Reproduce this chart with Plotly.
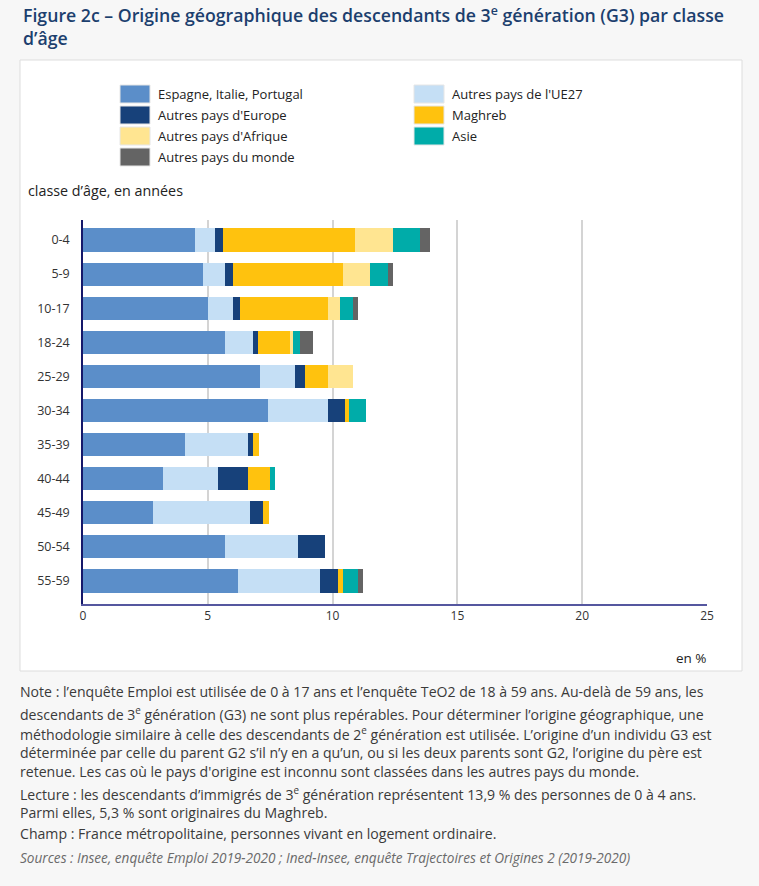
import plotly.graph_objects as go

# ---------------- data ----------------
categories = ["0-4", "5-9", "10-17", "18-24", "25-29", "30-34",
              "35-39", "40-44", "45-49", "50-54", "55-59"]

series_names = ["Espagne, Italie, Portugal", "Autres pays de l'UE27",
                "Autres pays d'Europe", "Maghreb", "Autres pays d'Afrique",
                "Asie", "Autres pays du monde"]

espagne_italie_portugal = [4.5, 4.8, 5.0, 5.7, 7.1, 7.4, 4.1, 3.2, 2.8, 5.7, 6.2]
autres_ue27 = [0.8, 0.9, 1.0, 1.1, 1.4, 2.4, 2.5, 2.2, 3.9, 2.9, 3.3]
autres_europe = [0.3, 0.3, 0.3, 0.2, 0.4, 0.7, 0.2, 1.2, 0.5, 1.1, 0.7]
maghreb = [5.3, 4.4, 3.5, 1.3, 0.9, 0.15, 0.25, 0.9, 0.25, 0.0, 0.2]
autres_afrique = [1.5, 1.1, 0.5, 0.1, 1.0, 0.0, 0.0, 0.0, 0.0, 0.0, 0.0]
asie = [1.1, 0.7, 0.5, 0.3, 0.0, 0.7, 0.0, 0.2, 0.0, 0.0, 0.6]
autres_monde = [0.4, 0.2, 0.2, 0.5, 0.0, 0.0, 0.0, 0.0, 0.0, 0.0, 0.2]

series_values = [espagne_italie_portugal, autres_ue27, autres_europe, maghreb,
                 autres_afrique, asie, autres_monde]
series_colors = ["#5B8EC9", "#C5DFF5", "#17417A", "#FFC20E",
                 "#FFE591", "#00ACA9", "#646464"]

x_ticks = [0, 5, 10, 15, 20, 25]

title_text = ("Figure 2c – Origine géographique des descendants de 3<sup>e</sup> "
              "génération (G3) par classe<br>d’âge")
y_title = "classe d’âge, en années"
x_title = "en %"

# note paragraphs (lines joined with <br> inside a paragraph block)
note_blocks = [
    ["Note : l’enquête Emploi est utilisée de 0 à 17 ans et l’enquête TeO2 de 18 à 59 ans. Au-delà de 59 ans, les"],
    ["descendants de 3<sup>e</sup> génération (G3) ne sont plus repérables. Pour déterminer l’origine géographique, une"],
    ["méthodologie similaire à celle des descendants de 2<sup>e</sup> génération est utilisée. L’origine d’un individu G3 est",
     "déterminée par celle du parent G2 s’il n’y en a qu’un, ou si les deux parents sont G2, l’origine du père est",
     "retenue. Les cas où le pays d'origine est inconnu sont classées dans les autres pays du monde."],
    ["Lecture : les descendants d’immigrés de 3<sup>e</sup> génération représentent 13,9 % des personnes de 0 à 4 ans.",
     "Parmi elles, 5,3 % sont originaires du Maghreb."],
    ["Champ : France métropolitaine, personnes vivant en logement ordinaire."],
]
source_line = "Sources : Insee, enquête Emploi 2019-2020 ; Ined-Insee, enquête Trajectoires et Origines 2 (2019-2020)"

# ---------------- layout geometry (pixels) ----------------
W, H = 759, 886
L, R, T, B = 83, 707, 220, 604

def X(px):
    return (px - L) / (R - L)

def Y(py):
    return (B - py) / (B - T)

FONT = "Open Sans, Noto Sans, sans-serif"

fig = go.Figure()
for name, vals, col in zip(series_names, series_values, series_colors):
    fig.add_trace(go.Bar(
        y=categories, x=vals, name=name, orientation="h",
        marker=dict(color=col, line=dict(width=0)),
        showlegend=False,
        hovertemplate="%{y} : %{x}<extra>" + name + "</extra>",
    ))

# y range so that category centers fall at the right pixels
band = 34.1
top_idx = -(240 - T) / band
bot_idx = 10 + (B - 581) / band

fig.update_layout(
    width=W, height=H,
    margin=dict(l=L, r=W - R, t=T, b=H - B, pad=0),
    paper_bgcolor="#F7F7F7",
    plot_bgcolor="rgba(0,0,0,0)",
    barmode="stack",
    bargap=0.32,
    font=dict(family=FONT, size=12, color="#333333"),
    xaxis=dict(range=[0, 25], tickvals=x_ticks, ticktext=[str(v) for v in x_ticks],
               showgrid=True, gridcolor="#D4D4D4", gridwidth=2,
               showline=True, linecolor="#55579F", linewidth=1.5,
               zeroline=False, ticks="", ticklen=0,
               tickfont=dict(size=12, color="#333333")),
    yaxis=dict(range=[bot_idx, top_idx], type="category",
               showgrid=False, showline=True, linecolor="#15186A", linewidth=1.5,
               ticks="", ticklabelstandoff=9,
               tickfont=dict(size=12.5, color="#333333")),
)

shapes = []
# white panel
shapes.append(dict(type="rect", xref="paper", yref="paper",
                   x0=X(20), x1=X(742), y0=Y(671), y1=Y(60),
                   fillcolor="#FFFFFF", line=dict(color="#DDDDDD", width=1),
                   layer="below"))

annotations = []
# title
annotations.append(dict(text=title_text, xref="paper", yref="paper",
                        x=X(21), y=Y(26), xanchor="left", yanchor="middle",
                        showarrow=False, align="left",
                        font=dict(family=FONT, size=17.7, color="#1C3F6E", weight=600)))

# legend (two columns, row-wise fill)
row_y = [94, 115, 136, 157]
col_x = [120, 414]
for i, (name, col) in enumerate(zip(series_names, series_colors)):
    r, c = divmod(i, 2)
    cy = row_y[r]
    sx = col_x[c]
    shapes.append(dict(type="rect", xref="paper", yref="paper",
                       x0=X(sx), x1=X(sx + 30), y0=Y(cy + 9), y1=Y(cy - 9),
                       fillcolor=col, line=dict(color="#E6E6E6", width=1)))
    annotations.append(dict(text=name, xref="paper", yref="paper",
                            x=X(sx + 36), y=Y(cy), xanchor="left", yanchor="middle",
                            showarrow=False,
                            font=dict(family=FONT, size=13, color="#222222")))

# axis titles
annotations.append(dict(text=y_title, xref="paper", yref="paper",
                        x=X(26), y=Y(190), xanchor="left", yanchor="middle",
                        showarrow=False, font=dict(family=FONT, size=14.3, color="#222222")))
annotations.append(dict(text=x_title, xref="paper", yref="paper",
                        x=X(709), y=Y(658), xanchor="right", yanchor="middle",
                        showarrow=False, font=dict(family=FONT, size=13.5, color="#222222")))

# notes: top of each block (pixel) so first lines land at reference positions
block_top = [680, 701, 721, 781, 822]
for lines, top in zip(note_blocks, block_top):
    annotations.append(dict(text="<br>".join(lines), xref="paper", yref="paper",
                            x=X(18), y=Y(top), xanchor="left", yanchor="top",
                            showarrow=False, align="left",
                            font=dict(family=FONT, size=14.1, color="#3A3A3A")))
annotations.append(dict(text="<i>" + source_line + "</i>", xref="paper", yref="paper",
                        x=X(18), y=Y(857), xanchor="left", yanchor="middle",
                        showarrow=False, align="left",
                        font=dict(family=FONT, size=13.6, color="#6A6A6A")))

fig.update_layout(shapes=shapes, annotations=annotations)

fig.write_html("out.html", config={"displayModeBar": False},
               post_script="document.body.style.margin='0';document.body.style.overflow='hidden';")
